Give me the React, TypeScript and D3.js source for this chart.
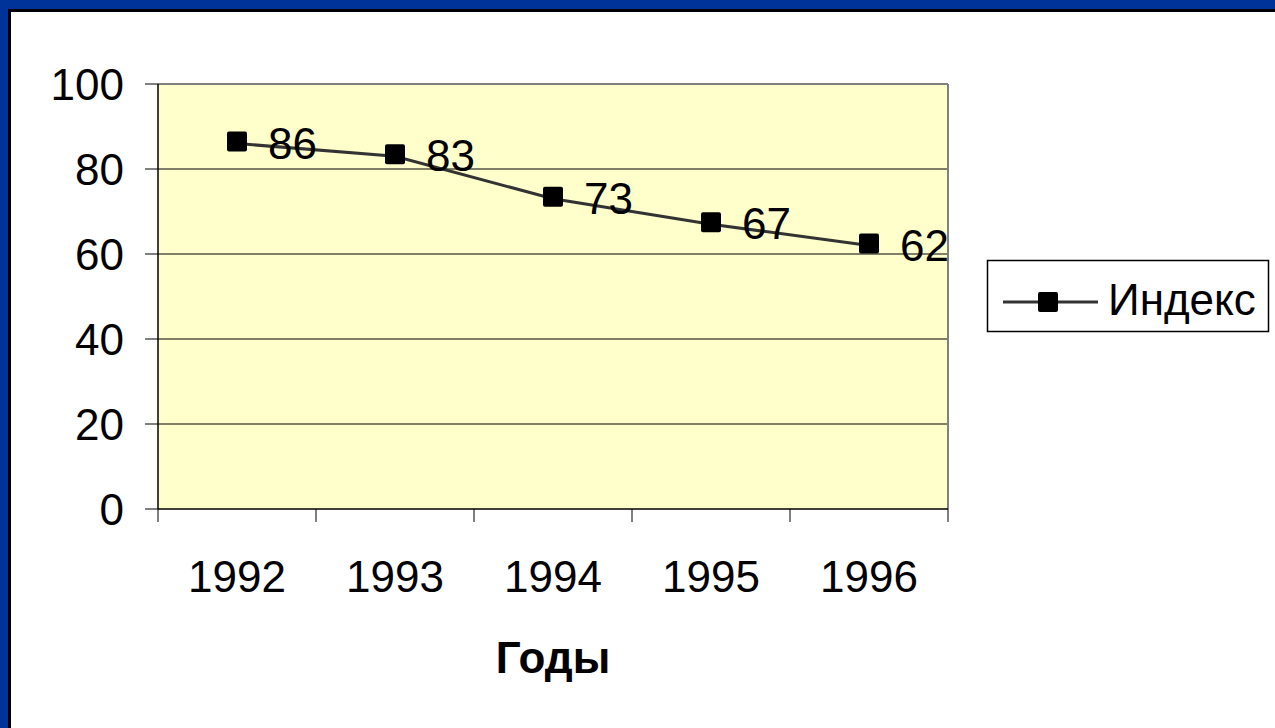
import React from "react";
import * as d3 from "d3";

const years = ["1992", "1993", "1994", "1995", "1996"];
const indexValues = [86, 83, 73, 67, 62];
const yTicks = [0, 20, 40, 60, 80, 100];
const seriesName = "Индекс";
const xTitle = "Годы";

const W = 1275;
const H = 728;
const FONT = "'Liberation Sans', Arial, sans-serif";

export default function App() {
  const left = 158, right = 948, top = 84, bottom = 509;
  const x = d3.scaleBand<string>().domain(years).range([left, right]);
  const y = d3.scaleLinear().domain([0, 100]).range([bottom, top]);
  const cx = (d: string) => (x(d) as number) + x.bandwidth() / 2;
  const line = d3
    .line<number>()
    .x((_, i) => cx(years[i]))
    .y((v) => y(v));
  const bounds = [left, ...years.map((d) => (x(d) as number) + x.bandwidth())];

  return (
    <div style={{ position: "fixed", left: 0, top: 0, width: W, height: H, background: "#fff" }}>
      <svg width={W} height={H} style={{ display: "block" }} fontFamily={FONT}>
        <rect x={0} y={0} width={W} height={H} fill="#ffffff" />
        {/* frame */}
        <rect x={0} y={0} width={W} height={9} fill="#003399" />
        <rect x={0} y={0} width={8} height={H} fill="#003399" />
        <rect x={8} y={9} width={W - 8} height={3} fill="#000" />
        <rect x={8} y={9} width={3} height={H - 9} fill="#000" />

        {/* plot area */}
        <rect x={left} y={top} width={right - left} height={bottom - top} fill="#FFFFCC" />
        {yTicks
          .filter((t) => t > 0 && t < 100)
          .map((t) => (
            <line key={t} x1={left} x2={right} y1={y(t)} y2={y(t)} stroke="#000" strokeWidth={1} />
          ))}
        <line x1={left} x2={right} y1={top} y2={top} stroke="#808080" strokeWidth={2} />
        <line x1={right} x2={right} y1={top} y2={bottom} stroke="#808080" strokeWidth={2} />
        {/* axes */}
        <line x1={left} x2={left} y1={top} y2={bottom} stroke="#000" strokeWidth={1.5} />
        <line x1={left} x2={right} y1={bottom} y2={bottom} stroke="#000" strokeWidth={1.5} />
        {yTicks.map((t) => (
          <g key={t}>
            <line x1={left - 13} x2={left} y1={y(t)} y2={y(t)} stroke="#000" strokeWidth={1} />
            <text x={124} y={y(t) + 16} textAnchor="end" fontSize={44} fill="#000">
              {t}
            </text>
          </g>
        ))}
        {bounds.map((b, i) => (
          <line key={i} x1={b} x2={b} y1={bottom} y2={bottom + 13} stroke="#000" strokeWidth={1} />
        ))}
        {years.map((d) => (
          <text key={d} x={cx(d)} y={592} textAnchor="middle" fontSize={44} fill="#000">
            {d}
          </text>
        ))}
        <text x={(left + right) / 2} y={673} textAnchor="middle" fontSize={44} fontWeight="bold" fill="#000">
          {xTitle}
        </text>

        {/* series */}
        <path d={line(indexValues) || ""} fill="none" stroke="#333333" strokeWidth={3} />
        {indexValues.map((v, i) => (
          <rect
            key={i}
            x={cx(years[i]) - 10}
            y={y(v) - 12}
            width={20}
            height={20}
            rx={2}
            fill="#000"
          />
        ))}
        {indexValues.map((v, i) => (
          <text key={"l" + i} x={cx(years[i]) + 31} y={y(v) + 15} fontSize={44} fill="#000">
            {Math.round(v)}
          </text>
        ))}

        {/* legend */}
        <rect x={987.5} y={260.5} width={281} height={71} fill="#fff" stroke="#000" strokeWidth={1.5} />
        <line x1={1003} x2={1098} y1={302} y2={302} stroke="#333333" strokeWidth={3} />
        <rect x={1038} y={292} width={20} height={20} rx={2} fill="#000" />
        <text x={1108} y={315} fontSize={44} fill="#000">
          {seriesName}
        </text>
      </svg>
    </div>
  );
}
